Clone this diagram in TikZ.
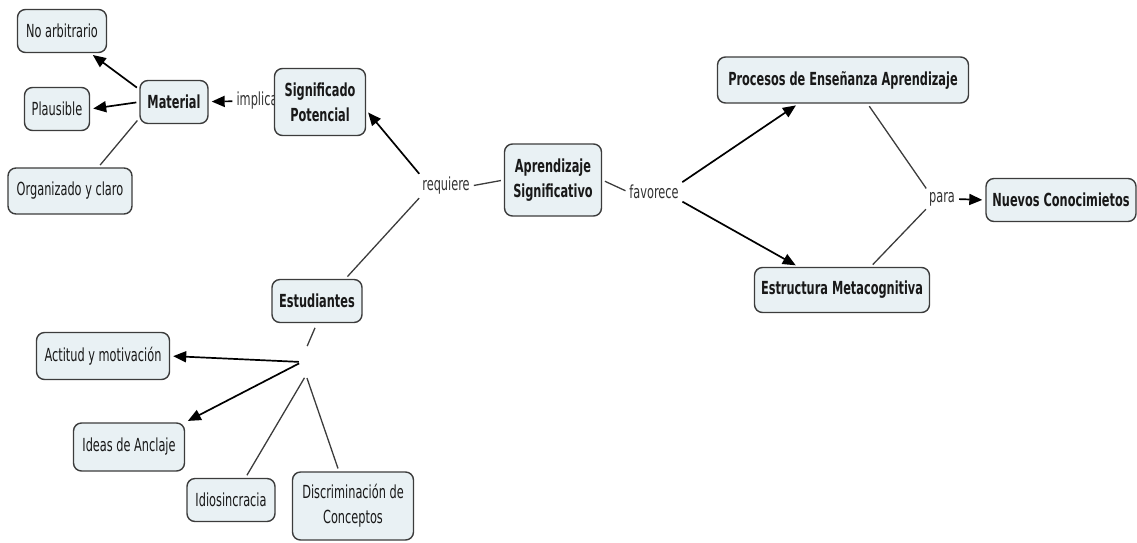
\documentclass[tikz,border=0pt]{standalone}
\usepackage{fontspec}
\setmainfont{DejaVu Sans}[FakeStretch=0.63]
\usetikzlibrary{arrows.meta}
\definecolor{boxfill}{RGB}{233,241,244}
\definecolor{boxline}{RGB}{60,60,60}
\definecolor{linkline}{RGB}{60,60,60}
\definecolor{txt}{RGB}{25,25,25}
\definecolor{phrasetxt}{RGB}{50,50,50}

\tikzset{
  concept/.style={draw=boxline, line width=1.4pt, fill=boxfill, rounded corners=8pt,
    align=center, inner sep=2pt, text=txt, font=\fontsize{18}{25}\selectfont},
  keyconcept/.style={concept, font=\bfseries\fontsize{18}{25}\selectfont},
  phrase/.style={inner sep=1pt, text=phrasetxt, font=\fontsize{18}{25}\selectfont},
  plain/.style={draw=linkline, line width=1.3pt, shorten <=3pt, shorten >=3pt},
  arr/.style={draw=black, line width=1.7pt, -{Triangle[length=13pt,width=11pt]},
    shorten <=3pt, shorten >=3pt},
}

\begin{document}
\begin{tikzpicture}[x=1pt, y=-1pt]
  \useasboundingbox (0,0) rectangle (1137,542);

  % linking phrases (drawn first so the concept boxes sit above them)
  \node[phrase] (impl) at (257,101) {implica};
  \node[phrase] (req)  at (446,186) {requiere};
  \node[phrase] (fav)  at (654,192) {favorece};
  \node[phrase] (para) at (942,199) {para};
  \node[inner sep=0pt, minimum width=8pt, minimum height=26pt] (jn) at (306,362) {};

  % concepts
  \node[concept, minimum width=89pt, minimum height=43pt]  (noarb) at (62,31)   {No arbitrario};
  \node[concept, minimum width=65pt, minimum height=43pt]  (plaus) at (57,109)  {Plausible};
  \node[keyconcept, minimum width=68pt, minimum height=43pt] (mat) at (174,102) {Material};
  \node[concept, minimum width=124pt, minimum height=46pt] (org)   at (70,191)  {Organizado y claro};
  \node[keyconcept, minimum width=91pt, minimum height=67pt] (sig) at (320,102) {Significado\\Potencial};
  \node[keyconcept, minimum width=97pt, minimum height=72pt] (apr) at (553,180) {Aprendizaje\\Significativo};
  \node[keyconcept, minimum width=251pt, minimum height=46pt] (proc) at (843,80) {Procesos de Enseñanza Aprendizaje};
  \node[keyconcept, minimum width=175pt, minimum height=45pt] (estr) at (842,290) {Estructura Metacognitiva};
  \node[keyconcept, minimum width=150pt, minimum height=43pt] (nuev) at (1061,200) {Nuevos Conocimietos};
  \node[keyconcept, minimum width=90pt, minimum height=43pt]  (est)  at (317,301) {Estudiantes};
  \node[concept, minimum width=133pt, minimum height=47pt] (act)   at (103,356) {Actitud y motivación};
  \node[concept, minimum width=111pt, minimum height=48pt] (ideas) at (129,447) {Ideas de Anclaje};
  \node[concept, minimum width=88pt, minimum height=43pt]  (idio)  at (231,500) {Idiosincracia};
  \node[concept, minimum width=121pt, minimum height=68pt] (disc)  at (353,506) {Discriminación de\\Conceptos};

  % Material branch
  \draw[arr]   (mat.160) -- (noarb.-38);
  \draw[arr]   (mat.west) -- (plaus.east);
  \draw[plain] (mat.-155) -- (org.40);
  \draw[arr]   (impl) -- (mat);

  % central concept
  \draw[arr]   (req.north west) -- (sig.-10);
  \draw[plain] (apr.west) -- (req.east);
  \draw[plain] (est.38) -- (req.south west);
  \draw[plain] (apr.east) -- (fav.west);
  \draw[arr]   (fav.north east) -- (proc.-152);
  \draw[arr]   (fav.south east) -- (estr.152);

  % towards new knowledge
  \draw[plain] (proc.-44) -- (para.north west);
  \draw[plain] (estr.39) -- (para.south west);
  \draw[arr]   (para.east) -- (nuev.west);

  % Estudiantes branch
  \draw[plain, shorten <=5pt] (est.south) -- (jn.north);
  \draw[arr]   (jn.west) -- (act.east);
  \draw[arr]   (jn.west) -- (ideas.north east);
  \draw[plain] (jn.south) -- (idio.57);
  \draw[plain] (jn.south) -- (disc.112);
\end{tikzpicture}
\end{document}
